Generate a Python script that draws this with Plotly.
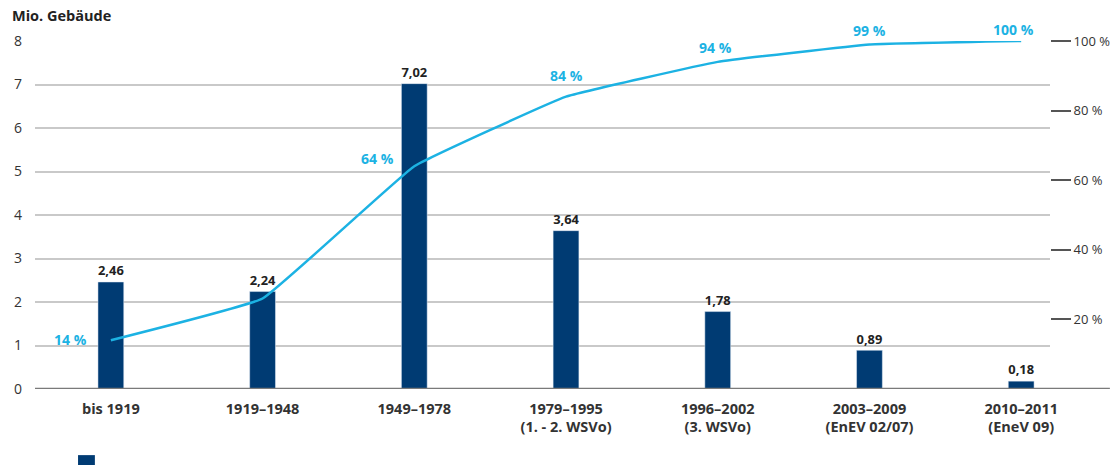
import plotly.graph_objects as go

categories = ["bis 1919", "1919–1948", "1949–1978", "1979–1995<br>(1. - 2. WSVo)",
              "1996–2002<br>(3. WSVo)", "2003–2009<br>(EnEV 02/07)", "2010–2011<br>(EneV 09)"]
buildings = [2.46, 2.24, 7.02, 3.64, 1.78, 0.89, 0.18]
bar_labels = ["2,46", "2,24", "7,02", "3,64", "1,78", "0,89", "0,18"]
cumulative_pct = [14, 26, 64, 84, 94, 99, 100]
pct_labels = ["14 %", "", "64 %", "84 %", "94 %", "99 %", "100 %"]
left_ticks = [0, 1, 2, 3, 4, 5, 6, 7, 8]
right_ticks = [20, 40, 60, 80, 100]
right_tick_labels = ["20 %", "40 %", "60 %", "80 %", "100 %"]

# label offsets (pixels) for the percentage labels
pct_xshift = [-40, 0, -37, 0, -2, 0, -8]
pct_yshift = [1, 0, 8, 21, 14, 14, 12]

BAR = "#003b73"
CYAN = "#1cb2e3"
FONT = "Open Sans"

fig = go.Figure()
fig.add_trace(go.Bar(
    x=categories, y=buildings, width=0.17, marker_color=BAR,
    text=bar_labels, textposition="outside", cliponaxis=False,
    textfont=dict(family=FONT, size=14, color="#222222", weight="bold"),
    showlegend=False, hoverinfo="skip"))
fig.add_trace(go.Scatter(
    x=categories, y=cumulative_pct, yaxis="y2", mode="lines",
    line=dict(color=CYAN, width=2.5, shape="spline", smoothing=0.25),
    showlegend=False, hoverinfo="skip"))

annotations = [
    dict(text="<b>Mio. Gebäude</b>", xref="paper", yref="paper",
         x=-0.025, y=1.04, xanchor="left", yanchor="bottom", showarrow=False,
         font=dict(family=FONT, size=14.5, color="#222222")),
]
for cat, val, lab, dx, dy in zip(categories, cumulative_pct, pct_labels, pct_xshift, pct_yshift):
    if lab:
        annotations.append(dict(
            text=f"<b>{lab}</b>", x=cat, y=val, xref="x", yref="y2",
            xshift=dx, yshift=dy, showarrow=False,
            font=dict(family=FONT, size=14, color=CYAN)))

fig.update_layout(
    width=1114, height=465,
    margin=dict(l=35, r=64, t=41, b=76),
    plot_bgcolor="white", paper_bgcolor="white",
    font=dict(family=FONT, size=13, color="#333333"),
    bargap=0.83,
    xaxis=dict(type="category", range=[-0.5, 6.19], showgrid=False,
               showline=False, ticks="", zeroline=False, automargin=False,
               ticklabelstandoff=9,
               tickfont=dict(family=FONT, size=14.5, color="#333333", weight="bold")),
    yaxis=dict(range=[0, 8], tickvals=left_ticks, showgrid=True,
               gridcolor="#c9c9c9", gridwidth=1.5, zeroline=False,
               showline=False, ticks="", ticklabelstandoff=12, automargin=False,
               tickfont=dict(family=FONT, size=14, color="#333333")),
    yaxis2=dict(range=[0, 100], overlaying="y", side="right",
                tickvals=right_ticks, ticktext=right_tick_labels,
                showgrid=False, zeroline=False, showline=False, automargin=False,
                ticks="outside", ticklen=20, tickwidth=1.5, tickcolor="#555555",
                ticklabelstandoff=0,
                tickfont=dict(family=FONT, size=13, color="#333333")),
    shapes=[
        dict(type="line", xref="paper", yref="y", x0=0, x1=1.059, y0=0, y1=0,
             line=dict(color="#7a7a7a", width=2.5)),
        dict(type="rect", xref="paper", yref="paper", x0=0.0424, x1=0.059,
             y0=-0.22, y1=-0.19, fillcolor=BAR, line=dict(width=0)),
    ],
    annotations=annotations,
)

fig.write_html("out.html")
